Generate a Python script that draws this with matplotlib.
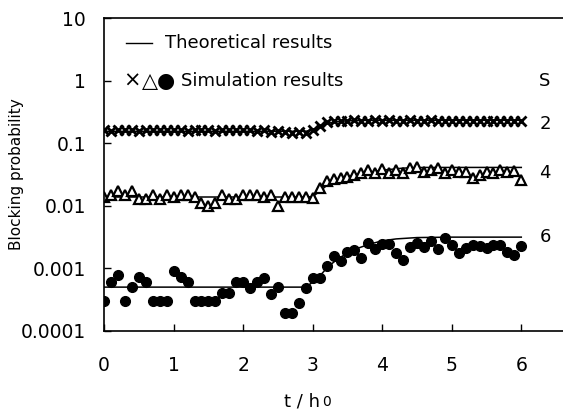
import matplotlib
matplotlib.use('Agg')
import matplotlib.pyplot as plt
import matplotlib.ticker as mticker
import numpy as np

plt.rcParams['font.family'] = ['DejaVu Sans']

# temps de simulation (pas de 0.1)
t_sim = np.round(np.arange(0, 61) * 0.1, 1)

# S = 2 : croix
sim_s2 = [0.16, 0.155, 0.16, 0.165, 0.16, 0.155, 0.16, 0.16, 0.165, 0.16,
          0.165, 0.16, 0.155, 0.16, 0.16, 0.16, 0.155, 0.16, 0.16, 0.165,
          0.16, 0.165, 0.155, 0.16, 0.15, 0.155, 0.15, 0.145, 0.15, 0.145,
          0.16, 0.19, 0.215, 0.225, 0.23, 0.225, 0.235, 0.23, 0.225, 0.235,
          0.23, 0.235, 0.225, 0.23, 0.235, 0.23, 0.225, 0.235, 0.23, 0.225,
          0.23, 0.225, 0.23, 0.225, 0.23, 0.225, 0.23, 0.225, 0.23, 0.225, 0.23]

# S = 4 : triangles
sim_s4 = [0.014, 0.015, 0.0174, 0.015, 0.0174, 0.0127, 0.0127, 0.015, 0.0127, 0.015,
          0.014, 0.015, 0.015, 0.014, 0.011, 0.010, 0.011, 0.015, 0.0127, 0.0127,
          0.015, 0.015, 0.015, 0.014, 0.015, 0.010, 0.014, 0.014, 0.014, 0.014,
          0.0135, 0.019, 0.025, 0.027, 0.028, 0.029, 0.031, 0.033, 0.037, 0.034,
          0.038, 0.034, 0.037, 0.034, 0.040, 0.042, 0.035, 0.037, 0.040, 0.033,
          0.037, 0.035, 0.035, 0.0275, 0.031, 0.035, 0.033, 0.037, 0.035, 0.036, 0.026]

# S = 6 : cercles
sim_s6 = [3.0e-4, 6.0e-4, 7.8e-4, 3.0e-4, 5.0e-4, 7.2e-4, 6.0e-4, 3.0e-4, 3.0e-4, 3.0e-4,
          8.9e-4, 7.2e-4, 6.0e-4, 3.0e-4, 3.0e-4, 3.0e-4, 3.0e-4, 4.0e-4, 4.0e-4, 6.0e-4,
          6.0e-4, 4.9e-4, 6.0e-4, 7.1e-4, 3.9e-4, 5.0e-4, 1.9e-4, 1.9e-4, 2.8e-4, 4.8e-4,
          6.9e-4, 6.9e-4, 1.07e-3, 1.6e-3, 1.3e-3, 1.85e-3, 1.96e-3, 1.48e-3, 2.5e-3, 2.05e-3,
          2.45e-3, 2.45e-3, 1.74e-3, 1.36e-3, 2.2e-3, 2.5e-3, 2.2e-3, 2.7e-3, 2.0e-3, 3.0e-3,
          2.35e-3, 1.74e-3, 2.1e-3, 2.35e-3, 2.3e-3, 2.1e-3, 2.35e-3, 2.35e-3, 1.85e-3, 1.63e-3, 2.3e-3]

# courbes théoriques
t_th2 = [0, 2.9, 3.0, 3.1, 3.2, 3.3, 3.5, 3.8, 6.0]
th_s2 = [0.155, 0.155, 0.165, 0.185, 0.205, 0.218, 0.228, 0.232, 0.232]

t_th4 = [0, 2.9, 3.0, 3.1, 3.2, 3.3, 3.5, 3.7, 4.0, 4.3, 4.6, 6.0]
th_s4 = [0.0138, 0.0138, 0.014, 0.017, 0.021, 0.024, 0.029, 0.033, 0.037, 0.040, 0.041, 0.041]

t_th6 = [0, 2.9, 3.0, 3.1, 3.2, 3.3, 3.4, 3.5, 3.6, 3.8, 4.0, 4.2, 4.5, 5.0, 6.0]
th_s6 = [5e-4, 5e-4, 6e-4, 7.5e-4, 1e-3, 1.25e-3, 1.5e-3, 1.75e-3, 2.0e-3, 2.4e-3,
         2.75e-3, 2.95e-3, 3.1e-3, 3.15e-3, 3.15e-3]

s_labels = ['2', '4', '6']
s_pos = [0.2, 0.034, 0.0032]

yticks = [1e-4, 1e-3, 1e-2, 1e-1, 1, 10]
ytick_labels = ['0.0001', '0.001', '0.01', '0.1', '1', '10']
xticks = [0, 1, 2, 3, 4, 5, 6]

fig = plt.figure(figsize=(5.63, 4.12), dpi=100)
ax = fig.add_axes([0.185, 0.197, 0.815, 0.759])

ax.plot(t_th2, th_s2, '-', color='black', lw=1.1)
ax.plot(t_th4, th_s4, '-', color='black', lw=1.1)
ax.plot(t_th6, th_s6, '-', color='black', lw=1.1)

ax.plot(t_sim, sim_s2, 'x', color='black', ms=7, mew=2)
ax.plot(t_sim, sim_s4, '^', color='black', mfc='white', ms=7.5, mew=1.6)
ax.plot(t_sim, sim_s6, 'o', color='black', ms=7)

ax.set_yscale('log')
ax.set_xlim(0, 6.6)
ax.set_ylim(1e-4, 10)
ax.set_yticks(yticks)
ax.set_yticklabels(ytick_labels)
ax.set_xticks(xticks)
ax.yaxis.set_minor_locator(mticker.NullLocator())
ax.tick_params(direction='in', length=5, width=1, labelsize=13.5)
ax.tick_params(axis='y', pad=13)
ax.tick_params(axis='x', pad=18)
ax.spines['right'].set_visible(False)
for sp in ['left', 'bottom', 'top']:
    ax.spines[sp].set_linewidth(1.2)

ax.set_ylabel('Blocking probability', fontsize=11)
ax.yaxis.set_label_coords(-0.175, 0.5)

# étiquette de l'axe x : t / h0 avec un 0 plus petit
fig.text(320 / 563, 1 - 406 / 412, 't / h', fontsize=13, ha='right', va='baseline')
fig.text(322 / 563, 1 - 406 / 412, '0', fontsize=10, ha='left', va='baseline')

# légende faite à la main
ax.plot([0.31, 0.69], [4.0, 4.0], '-', color='black', lw=1)
ax.text(0.88, 4.0, 'Theoretical results', fontsize=13, va='center')
ax.text(0.40, 1.0, '×', fontsize=15, va='center', ha='center')
ax.text(0.66, 1.0, '△', fontsize=15, va='center', ha='center')
ax.text(0.89, 1.0, '●', fontsize=15, va='center', ha='center')
ax.text(1.10, 1.0, 'Simulation results', fontsize=13, va='center')

ax.text(6.26, 1.0, 'S', fontsize=13, va='center')
for lab, y in zip(s_labels, s_pos):
    ax.text(6.26, y, lab, fontsize=13, va='center')

fig.savefig('out.png', dpi=100)
